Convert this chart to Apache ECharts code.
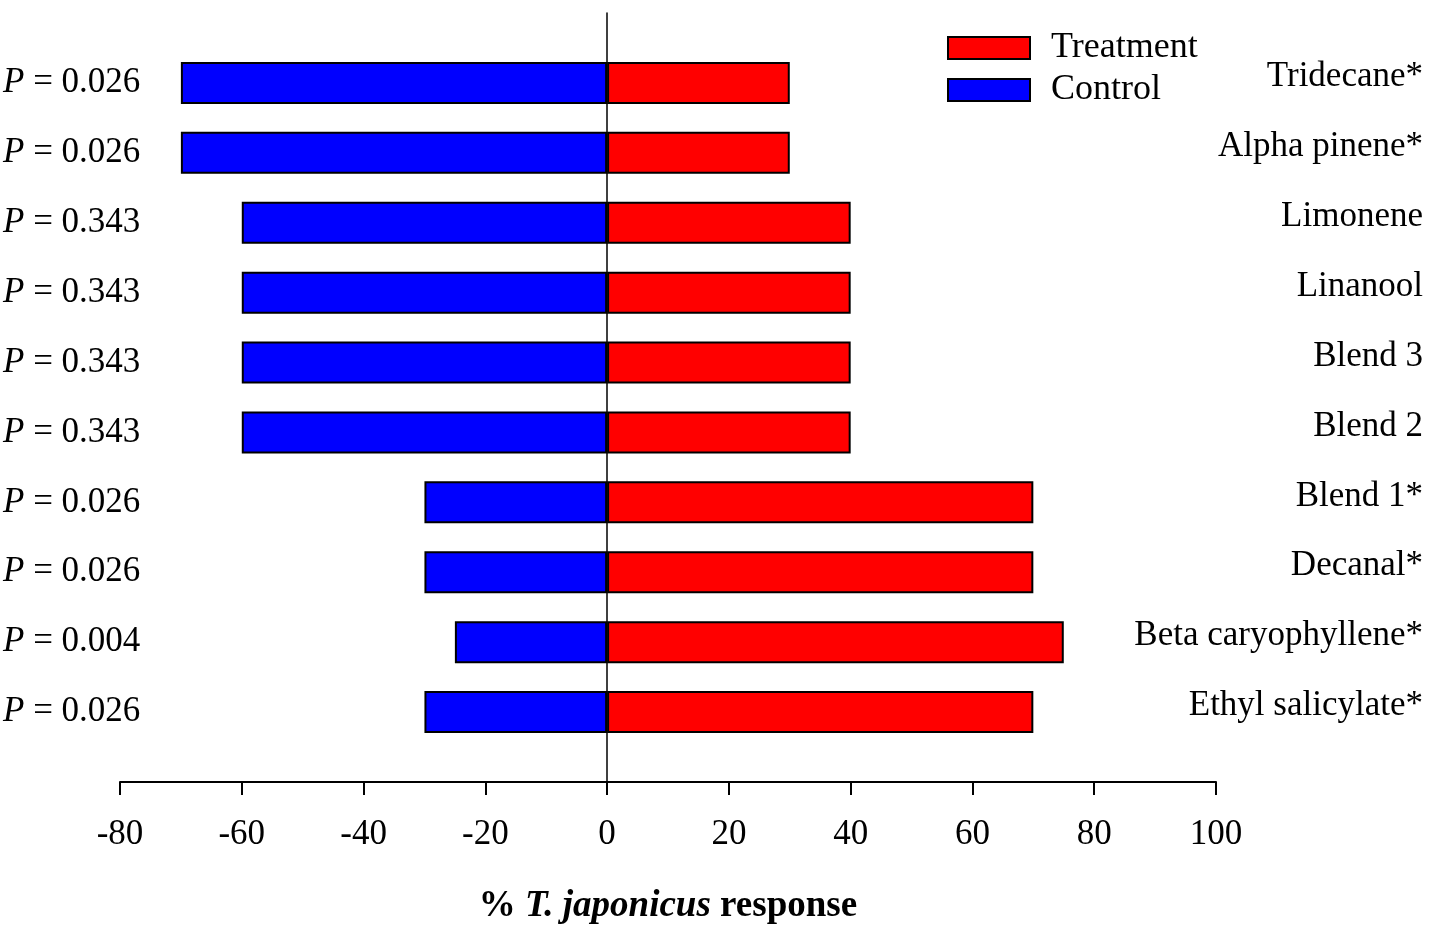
<!DOCTYPE html>
<html>
<head>
<meta charset="utf-8">
<title>T. japonicus response</title>
<script src="https://cdn.jsdelivr.net/npm/echarts@6/dist/echarts.min.js"></script>
<style>
  html, body { margin: 0; padding: 0; background: #fff; }
  #chart { width: 1437px; height: 927px; }
</style>
</head>
<body>
<div id="chart"></div>
<script>
// compounds, top to bottom
const compounds = ['Tridecane*', 'Alpha pinene*', 'Limonene', 'Linanool', 'Blend 3',
    'Blend 2', 'Blend 1*', 'Decanal*', 'Beta caryophyllene*', 'Ethyl salicylate*'];
const pValues = ['0.026', '0.026', '0.343', '0.343', '0.343', '0.343', '0.026', '0.026', '0.004', '0.026'];
const treatment = [30, 30, 40, 40, 40, 40, 70, 70, 75, 70];
const control = [-70, -70, -60, -60, -60, -60, -30, -30, -25, -30];
const xTicks = { min: -80, max: 100, interval: 20 };

const font = 'Liberation Serif, Times New Roman, serif';

// empty slot at each end so the zero line runs past the first and last bar
const pad = arr => [null, ...arr, null];
const cats = pad(compounds).map(c => c || '');
const pCats = pad(pValues).map(p => p || '');

const catAxis = {
    type: 'category',
    inverse: true,
    boundaryGap: false,
    axisTick: { show: false },
    splitLine: { show: false }
};

const barStyle = color => ({
    color,
    borderColor: '#000',
    borderWidth: 2
});

const chart = echarts.init(document.getElementById('chart'));
chart.setOption({
    animation: false,
    textStyle: { fontFamily: font },
    grid: {
        left: 120, right: 221, top: 13, bottom: 145,
        containLabel: false,
        outerBoundsMode: 'none'
    },
    legend: {
        orient: 'vertical',
        left: 947,
        top: 30,
        padding: 0,
        itemWidth: 82,
        itemHeight: 22,
        itemGap: 6,
        icon: 'rect',
        textStyle: {
            fontFamily: font, fontSize: 36, color: '#000',
            padding: [0, 0, 0, 16]
        },
        data: ['Treatment', 'Control']
    },
    xAxis: {
        type: 'value',
        min: xTicks.min,
        max: xTicks.max,
        interval: xTicks.interval,
        name: '{b|% }{bi|T. japonicus}{b| response}',
        nameLocation: 'middle',
        nameGap: 106,
        nameTextStyle: {
            rich: {
                b: { fontFamily: font, fontSize: 37, fontWeight: 'bold', color: '#000' },
                bi: { fontFamily: font, fontSize: 37, fontWeight: 'bold', fontStyle: 'italic', color: '#000' }
            }
        },
        axisLine: { show: true, lineStyle: { color: '#000', width: 2 } },
        axisTick: { show: true, inside: false, length: 13, lineStyle: { color: '#000', width: 2 } },
        axisLabel: { fontFamily: font, fontSize: 35, color: '#000', margin: 35 },
        splitLine: { show: false }
    },
    yAxis: [
        {
            ...catAxis,
            data: cats,
            axisLine: { show: true, onZero: true, lineStyle: { color: '#000', width: 1.5 } },
            axisLabel: { show: false }
        },
        {
            ...catAxis,
            position: 'left',
            data: pCats,
            axisLine: { show: false, onZero: false },
            axisLabel: {
                align: 'left',
                margin: 117,
                formatter: v => v ? '{i|P} = ' + v : '',
                fontFamily: font,
                fontSize: 35,
                color: '#000',
                rich: {
                    i: { fontFamily: font, fontSize: 35, fontStyle: 'italic', color: '#000' }
                }
            }
        },
        {
            ...catAxis,
            position: 'right',
            data: cats,
            axisLine: { show: false, onZero: false },
            axisLabel: {
                align: 'right',
                verticalAlign: 'bottom',
                lineHeight: 12,
                margin: 207,
                fontFamily: font,
                fontSize: 35,
                color: '#000'
            }
        }
    ],
    series: [
        {
            name: 'Treatment',
            type: 'bar',
            yAxisIndex: 0,
            barWidth: 42,
            barGap: '-100%',
            itemStyle: barStyle('#ff0000'),
            data: pad(treatment)
        },
        {
            name: 'Control',
            type: 'bar',
            yAxisIndex: 0,
            barWidth: 42,
            barGap: '-100%',
            itemStyle: barStyle('#0000ff'),
            data: pad(control)
        }
    ]
});
</script>
</body>
</html>
